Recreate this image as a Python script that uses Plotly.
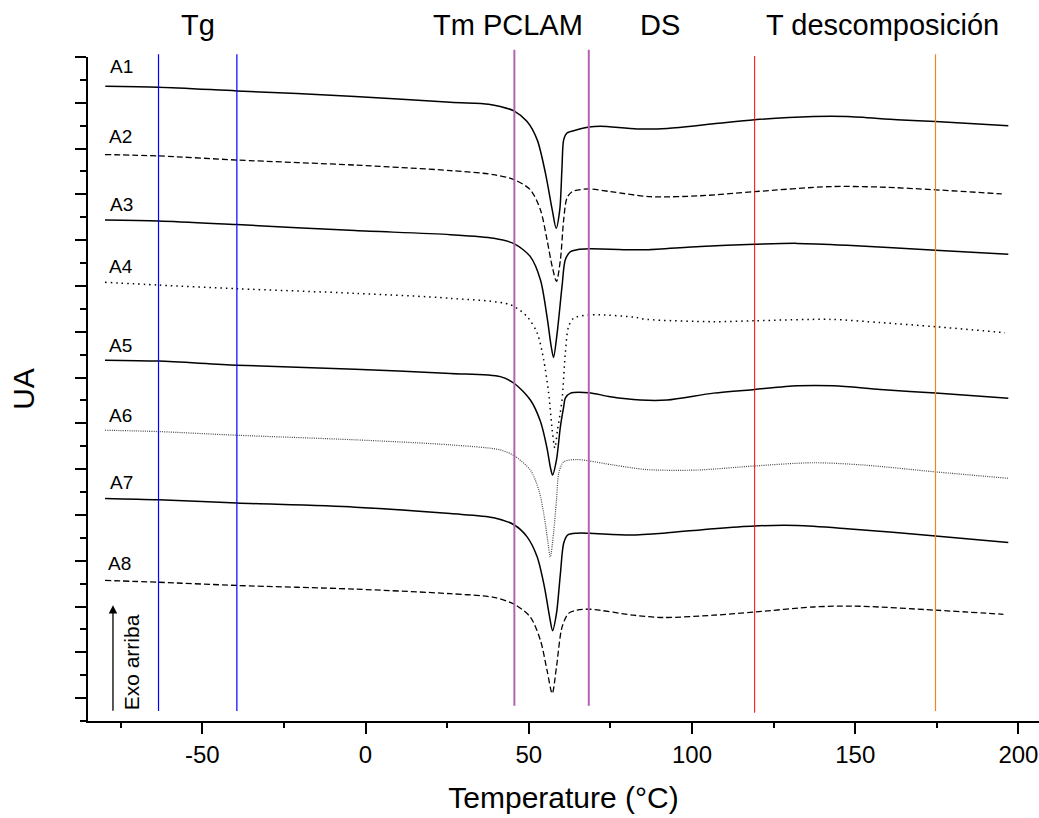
import plotly.graph_objects as go

# ---- data (temperature in °C, heat flow in arbitrary stacked units) ----
A1_x = [-79.7, -63.4, -39.4, -3.2, 26.0, 37.7, 41.3, 45.6, 49.5, 52.6, 55.1, 57.2, 58.4, 59.5, 60.2, 60.7, 61.7, 64.8, 68.4, 71.9, 83.2, 92.4, 106.6, 119.2, 137.2, 147.5, 162.8, 174.6, 196.9]
A1_y = [13.36, 13.34, 13.26, 13.14, 13.01, 12.97, 12.92, 12.82, 12.59, 12.19, 11.47, 10.66, 10.26, 10.66, 11.61, 12.19, 12.34, 12.41, 12.47, 12.49, 12.43, 12.44, 12.54, 12.63, 12.70, 12.70, 12.63, 12.59, 12.50]

A2_x = [-79.8, -63.4, -39.4, -3.2, 26.0, 39.3, 45.6, 50.5, 53.6, 55.6, 57.2, 58.5, 59.7, 60.7, 61.7, 63.3, 68.4, 75.0, 87.2, 102.6, 119.2, 142.4, 157.7, 174.6, 194.9]
A2_y = [11.87, 11.84, 11.75, 11.64, 11.52, 11.43, 11.32, 11.10, 10.66, 10.01, 9.42, 9.10, 9.57, 10.44, 10.92, 11.06, 11.12, 11.06, 10.95, 10.97, 11.06, 11.17, 11.16, 11.10, 11.01]

A3_x = [-79.8, -63.4, -39.4, -3.2, 26.0, 39.3, 45.6, 50.5, 53.6, 55.6, 56.9, 57.6, 58.7, 60.2, 61.2, 62.8, 64.8, 68.4, 82.1, 86.2, 102.6, 119.2, 132.2, 147.5, 174.6, 196.9]
A3_y = [10.44, 10.42, 10.34, 10.21, 10.12, 10.04, 9.92, 9.64, 9.13, 8.33, 7.67, 7.44, 7.97, 8.99, 9.57, 9.75, 9.79, 9.81, 9.79, 9.79, 9.86, 9.91, 9.93, 9.89, 9.78, 9.69]

A4_x = [-79.8, -63.4, -39.4, -3.2, 26.0, 44.4, 49.5, 52.6, 54.6, 56.1, 57.2, 58.0, 58.8, 60.2, 61.2, 62.2, 63.8, 68.4, 71.9, 82.1, 86.2, 106.6, 119.2, 142.4, 157.7, 174.6, 195.9]
A4_y = [9.08, 9.02, 8.94, 8.84, 8.73, 8.59, 8.33, 7.97, 7.38, 6.66, 5.85, 5.46, 5.85, 6.51, 7.53, 8.11, 8.30, 8.37, 8.37, 8.32, 8.27, 8.22, 8.24, 8.27, 8.20, 8.11, 7.98]

A5_x = [-79.8, -63.4, -39.4, -3.2, 26.0, 41.3, 45.6, 50.5, 53.6, 55.6, 56.6, 57.3, 58.5, 59.7, 60.7, 61.2, 62.8, 68.4, 75.0, 84.2, 92.4, 106.6, 119.2, 132.2, 143.4, 157.7, 174.6, 196.9]
A5_y = [7.38, 7.36, 7.27, 7.18, 7.09, 7.02, 6.87, 6.51, 6.04, 5.46, 5.05, 4.87, 5.20, 5.93, 6.36, 6.55, 6.66, 6.67, 6.58, 6.51, 6.51, 6.66, 6.74, 6.82, 6.82, 6.74, 6.66, 6.55]

A6_x = [-79.8, -63.4, -39.4, -3.2, 26.0, 41.3, 45.6, 50.5, 53.1, 54.6, 55.8, 56.6, 57.6, 58.5, 59.2, 60.7, 64.8, 68.4, 76.0, 86.2, 101.5, 119.2, 137.2, 152.5, 174.6, 196.9]
A6_y = [5.85, 5.82, 5.74, 5.64, 5.53, 5.42, 5.29, 4.98, 4.54, 4.03, 3.45, 3.08, 3.60, 4.32, 4.91, 5.16, 5.21, 5.18, 5.09, 4.99, 4.98, 5.07, 5.14, 5.09, 4.94, 4.80]

A7_x = [-79.8, -63.4, -39.4, -3.2, 26.0, 39.3, 45.6, 49.5, 52.6, 54.8, 56.4, 57.3, 58.5, 59.7, 60.7, 61.9, 64.8, 68.4, 81.1, 91.3, 106.6, 119.2, 132.2, 147.5, 174.6, 196.9]
A7_y = [4.36, 4.33, 4.26, 4.17, 4.03, 3.94, 3.78, 3.52, 3.08, 2.43, 1.77, 1.47, 1.85, 2.72, 3.38, 3.56, 3.60, 3.60, 3.56, 3.60, 3.70, 3.76, 3.77, 3.70, 3.54, 3.40]

A8_x = [-79.8, -63.4, -39.4, -3.2, 26.0, 39.3, 45.6, 50.5, 53.6, 55.6, 57.2, 58.5, 60.2, 62.2, 64.8, 68.9, 82.1, 91.3, 106.6, 119.2, 137.2, 149.5, 174.6, 195.4]
A8_y = [2.57, 2.53, 2.46, 2.38, 2.28, 2.20, 2.05, 1.77, 1.26, 0.61, 0.10, 0.68, 1.55, 1.85, 1.92, 1.94, 1.81, 1.76, 1.81, 1.88, 1.99, 2.01, 1.92, 1.83]

SAMPLE_NAMES = ["A1", "A2", "A3", "A4", "A5", "A6", "A7", "A8"]

# transition marker temperatures (°C)
TG_LINES = [-63.4, -39.4]
TM_LINES = [45.6, 68.4]
DS_LINE = [119.2]
TDEC_LINE = [174.6]
REGION_LABELS = ["Tg", "Tm PCLAM", "DS", "T descomposición"]
REGION_LABEL_X = [-51.3, 43.5, 90.3, 158.4]

X_TICKS = [-50, 0, 50, 100, 150, 200]
X_TICK_TEXT = ["-50", "0", "50", "100", "150", "200"]
X_MINOR_TICKS = [-75, -25, 25, 75, 125, 175]

FONT = "Liberation Sans, Arial, sans-serif"

series = [
    (A1_x, A1_y, dict(color="black", width=1.5, dash="solid")),
    (A2_x, A2_y, dict(color="black", width=1.3, dash="6px,3px")),
    (A3_x, A3_y, dict(color="black", width=1.5, dash="solid")),
    (A4_x, A4_y, dict(color="black", width=1.5, dash="1.5px,4px")),
    (A5_x, A5_y, dict(color="black", width=1.5, dash="solid")),
    (A6_x, A6_y, dict(color="#444444", width=1.2, dash="1px,1.2px")),
    (A7_x, A7_y, dict(color="black", width=1.5, dash="solid")),
    (A8_x, A8_y, dict(color="black", width=1.3, dash="6px,3px")),
]

fig = go.Figure()
for (xs, ys, ln), name in zip(series, SAMPLE_NAMES):
    fig.add_trace(go.Scatter(x=xs, y=ys, mode="lines", name=name,
                             line=dict(shape="spline", smoothing=0.8, **ln),
                             showlegend=False, hoverinfo="skip"))

# vertical transition lines (paper y so they may poke slightly above the axis)
def vline(x, color, width, y0, y1):
    fig.add_shape(type="line", xref="x", yref="paper", x0=x, x1=x, y0=y0, y1=y1,
                  line=dict(color=color, width=width), layer="above")

for x in TG_LINES:
    vline(x, "#0000ff", 1.2, 0.015, 1.004)
vline(TM_LINES[0], "#b064b4", 2, 0.023, 1.011)
vline(TM_LINES[1], "#b064b4", 2, 0.023, 1.011)
vline(DS_LINE[0], "#ff0000", 1, 0.0125, 1.0015)
vline(TDEC_LINE[0], "#e8862a", 1.2, 0.015, 1.004)

annotations = []
for lbl, lx in zip(REGION_LABELS, REGION_LABEL_X):
    annotations.append(dict(text=lbl, x=lx, y=1.048, xref="x", yref="paper",
                            xanchor="center", yanchor="middle", showarrow=False,
                            font=dict(family=FONT, size=29, color="black")))

label_x = [-79.0, -79.3, -78.8, -79.3, -79.3, -79.3, -78.8, -79.6]
label_y = [13.80, 12.26, 10.77, 9.42, 7.71, 6.17, 4.70, 2.93]
for name, lx, ly in zip(SAMPLE_NAMES, label_x, label_y):
    annotations.append(dict(text=name, x=lx, y=ly, xref="x", yref="y",
                            xanchor="left", yanchor="middle", showarrow=False,
                            font=dict(family=FONT, size=19, color="black")))

# exo-up arrow and label
annotations.append(dict(text="", x=-77.35, y=2.03, ax=-77.35, ay=-0.31,
                        xref="x", yref="y", axref="x", ayref="y",
                        showarrow=True, arrowhead=2, arrowsize=1.3, arrowwidth=1.3,
                        arrowcolor="black"))
annotations.append(dict(text="Exo arriba", x=-71.4, y=0.79, xref="x", yref="y",
                        textangle=-90, xanchor="center", yanchor="middle",
                        showarrow=False, font=dict(family=FONT, size=21, color="black")))

fig.update_layout(
    width=1039, height=818,
    margin=dict(l=88, r=0, t=57, b=97),
    paper_bgcolor="white", plot_bgcolor="white",
    font=dict(family=FONT, color="black"),
    annotations=annotations,
    xaxis=dict(
        range=[-85, 206.3], showgrid=False, zeroline=False,
        showline=True, linecolor="black", linewidth=2,
        ticks="outside", ticklen=11, tickwidth=2, tickcolor="black",
        tickmode="array", tickvals=X_TICKS, ticktext=X_TICK_TEXT,
        tickfont=dict(family=FONT, size=24, color="black"),
        minor=dict(tickmode="array", tickvals=X_MINOR_TICKS, ticks="outside",
                   ticklen=5, tickwidth=2, tickcolor="black", showgrid=False),
        title=dict(text="Temperature (°C)", font=dict(family=FONT, size=30, color="black"),
                   standoff=20),
    ),
    yaxis=dict(
        range=[-0.5, 14], showgrid=False, zeroline=False,
        showline=True, linecolor="black", linewidth=2,
        ticks="outside", ticklen=11, tickwidth=2, tickcolor="black",
        tick0=0, dtick=1, showticklabels=False,
        minor=dict(tick0=0.5, dtick=1, ticks="outside", ticklen=6, tickwidth=2,
                   tickcolor="black", showgrid=False),
        title=dict(text="UA", font=dict(family=FONT, size=30, color="black"), standoff=32),
    ),
)

fig.write_html("out.html")
